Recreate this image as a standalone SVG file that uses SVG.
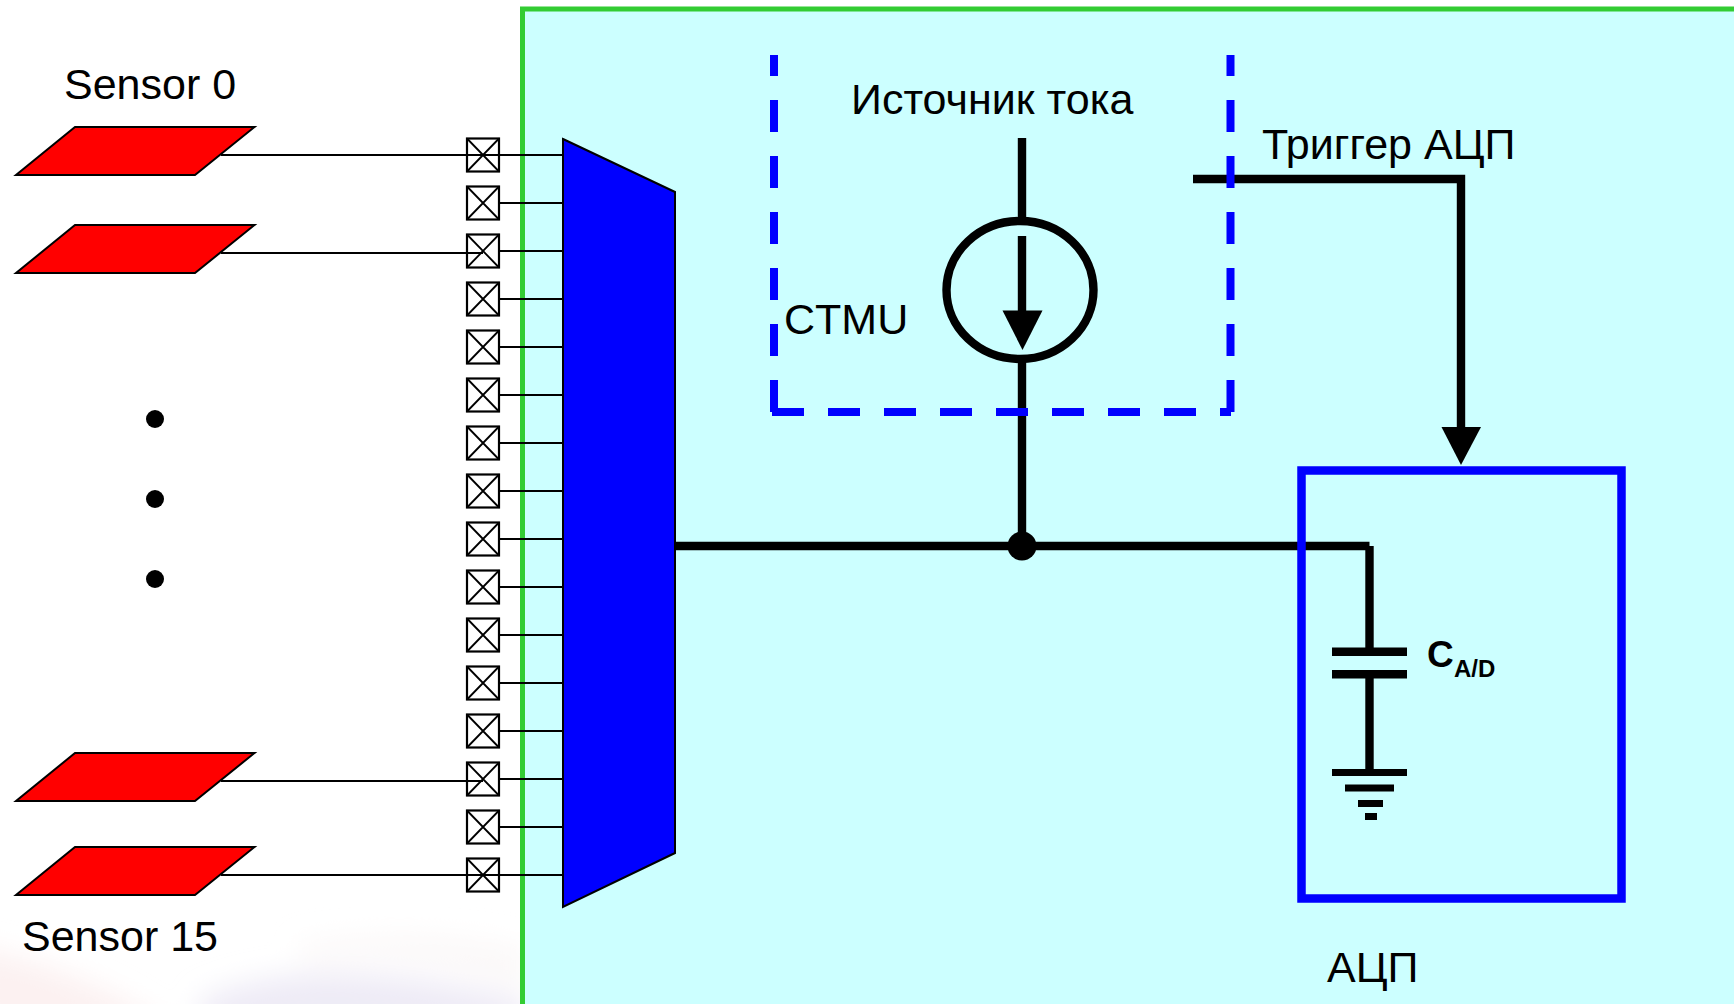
<svg xmlns="http://www.w3.org/2000/svg" width="1734" height="1004" viewBox="0 0 1734 1004">
<defs>
<style>
text{font-family:"Liberation Sans",Arial,sans-serif;fill:#000}
.lbl{font-size:43px}
.wire{fill:none;stroke:#000;stroke-width:8.4}
.thin{fill:none;stroke:#000;stroke-width:1.8}
.dash{fill:none;stroke:#00f;stroke-width:8;stroke-dasharray:32 24}
.sensor{fill:#f00;stroke:#000;stroke-width:2}
.pad{fill:none;stroke:#000;stroke-width:2.2}
</style>
<filter id="soft" x="-30%" y="-30%" width="160%" height="160%"><feGaussianBlur stdDeviation="14"/></filter>
<g id="padcell"><rect class="pad" x="-16" y="-16.5" width="32" height="33"/><path class="thin" d="M-16-16.5 16 16.5M-16 16.5 16-16.5"/></g>
<path id="sens" class="sensor" d="M75 0H254.500L195 48H16Z"/>
</defs>
<rect id="background" width="1734" height="1004" fill="#fff"/>
<g id="backdrop-tint" filter="url(#soft)">
<path d="M-30 945C50 965 110 985 170 1030H-30Z" fill="#fcf1f1"/>
<path d="M200 1000C270 965 380 965 525 1000V1030H200Z" fill="#eeebf6"/>
<path d="M300 945C380 930 460 935 525 950V990C440 960 370 955 300 965Z" fill="#fbf8f8"/>
</g>
<rect id="chip" x="522.500" y="9" width="1240" height="1020" fill="#cff" stroke="#3c3" stroke-width="5"/>
<g id="connectors">
<path class="thin" d="M221 155H563M221 253H483M221 781H483M221 875H563"/>
<path class="thin" d="M499 203H563M499 251H563M499 299H563M499 347H563M499 395H563M499 443H563M499 491H563M499 539H563M499 587H563M499 635H563M499 683H563M499 731H563M499 779H563M499 827H563"/>
<path class="wire" d="M675 546H1369.500"/>
<path class="wire" d="M1369.500 546V650M1369.500 676V770"/>
<path class="wire" d="M1022 138V218M1022 362V546"/>
<path class="wire" d="M1022 236V315"/>
<path class="wire" d="M1193 179H1461V430"/>
<polygon points="1441.500,427 1481,427 1461,465" fill="#000"/>
<polygon points="1002.500,310.500 1042.500,310.500 1022.500,350" fill="#000"/>
</g>
<g id="sensor-0"><use href="#sens" y="127"/><text class="lbl" x="64" y="99">Sensor 0</text></g>
<g id="sensor-1"><use href="#sens" y="225"/></g>
<g id="sensor-14"><use href="#sens" y="753"/></g>
<g id="sensor-15"><use href="#sens" y="847"/><text class="lbl" x="22" y="951">Sensor 15</text></g>
<g id="ellipsis" fill="#000"><circle cx="155" cy="419" r="9"/><circle cx="155" cy="499" r="9"/><circle cx="155" cy="579" r="9"/></g>
<g id="pads">
<use href="#padcell" x="483" y="155"/><use href="#padcell" x="483" y="203"/><use href="#padcell" x="483" y="251"/><use href="#padcell" x="483" y="299"/>
<use href="#padcell" x="483" y="347"/><use href="#padcell" x="483" y="395"/><use href="#padcell" x="483" y="443"/><use href="#padcell" x="483" y="491"/>
<use href="#padcell" x="483" y="539"/><use href="#padcell" x="483" y="587"/><use href="#padcell" x="483" y="635"/><use href="#padcell" x="483" y="683"/>
<use href="#padcell" x="483" y="731"/><use href="#padcell" x="483" y="779"/><use href="#padcell" x="483" y="827"/><use href="#padcell" x="483" y="875"/>
</g>
<g id="mux"><polygon points="563,139 675,192 675,853 563,907" fill="#00f" stroke="#000" stroke-width="2"/></g>
<g id="ctmu">
<path class="dash" d="M774 412V55"/>
<path class="dash" d="M1230.500 412V55"/>
<path class="dash" d="M772 412H1231"/>
<text class="lbl" x="784" y="334">CTMU</text>
</g>
<g id="current-source">
<ellipse cx="1020" cy="290" rx="73.500" ry="69" fill="none" stroke="#000" stroke-width="8.400"/>
<text class="lbl" x="851" y="114">Источник тока</text>
</g>
<circle id="junction" cx="1022" cy="546" r="14.500" fill="#000"/>
<text id="trigger-label" class="lbl" x="1262" y="159">Триггер АЦП</text>
<g id="adc">
<rect x="1301.500" y="470.500" width="320" height="428" fill="none" stroke="#00f" stroke-width="8.500"/>
<text class="lbl" x="1327" y="982">АЦП</text>
</g>
<g id="capacitor" fill="#000">
<rect x="1332" y="647.500" width="75" height="8.500"/><rect x="1332" y="670" width="75" height="8.500"/>
<rect x="1332" y="769" width="75" height="7"/><rect x="1345" y="784.500" width="49" height="7"/><rect x="1358" y="800" width="25" height="7"/><rect x="1365" y="813" width="12" height="7"/>
<text x="1427" y="667" font-size="37" font-weight="700">C</text>
<text x="1454" y="677" font-size="24" font-weight="700">A/D</text>
</g>
</svg>
